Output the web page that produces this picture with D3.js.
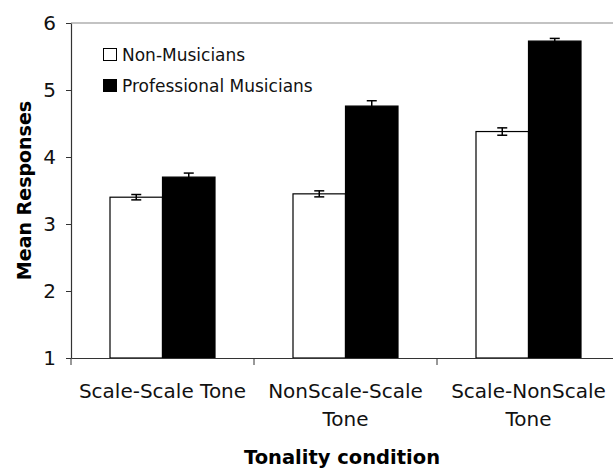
<!DOCTYPE html>
<html>
<head>
<meta charset="utf-8">
<script src="https://cdn.jsdelivr.net/npm/d3@7"></script>
<style>
  html, body { margin: 0; padding: 0; background: #fff; }
  svg { display: block; font-family: "DejaVu Sans", Verdana, sans-serif; }
</style>
</head>
<body>
<svg id="chart" width="613" height="468"></svg>
<script>
// Tonality conditions and their (wrapped) axis labels
const categories = ["Scale-Scale Tone", "NonScale-Scale Tone", "Scale-NonScale Tone"];
const categoryLines = [["Scale-Scale Tone"], ["NonScale-Scale", "Tone"], ["Scale-NonScale", "Tone"]];
const seriesNames = ["Non-Musicians", "Professional Musicians"];
const seriesFill = ["#ffffff", "#000000"];

// Mean responses and standard errors per group
const nonMusicianMeans = [3.40, 3.45, 4.38];
const nonMusicianErr = [0.04, 0.045, 0.055];
const musicianMeans = [3.70, 4.76, 5.73];
const musicianErr = [0.06, 0.08, 0.04];

const yTicks = [1, 2, 3, 4, 5, 6];

const svg = d3.select("#chart");
const plotLeft = 71, plotRight = 620, plotTop = 23, plotBottom = 358;

const x0 = d3.scaleBand().domain(categories).range([plotLeft, plotRight]);
const x1 = d3.scaleBand().domain(seriesNames).range([39, 144]);
const y = d3.scaleLinear().domain([1, 6]).range([plotBottom, plotTop]);

// top frame line
svg.append("line")
  .attr("x1", plotLeft).attr("x2", 613)
  .attr("y1", y(6)).attr("y2", y(6))
  .attr("stroke", "#888").attr("stroke-width", 1.2);

// bars
const series = [
  { name: seriesNames[0], means: nonMusicianMeans, err: nonMusicianErr, fill: seriesFill[0] },
  { name: seriesNames[1], means: musicianMeans, err: musicianErr, fill: seriesFill[1] }
];

const groups = svg.selectAll("g.cat")
  .data(categories)
  .join("g")
  .attr("class", "cat")
  .attr("transform", d => `translate(${x0(d)},0)`);

series.forEach(s => {
  groups.append("rect")
    .attr("x", x1(s.name))
    .attr("width", x1.bandwidth())
    .attr("y", (d, i) => y(s.means[i]))
    .attr("height", (d, i) => y(1) - y(s.means[i]))
    .attr("fill", s.fill)
    .attr("stroke", "#000")
    .attr("stroke-width", 1.2);
});

// error bars
series.forEach(s => {
  const cx = x1(s.name) + x1.bandwidth() / 2;
  const eb = groups.append("g").attr("stroke", "#000").attr("stroke-width", 1.5);
  eb.append("line")
    .attr("x1", cx).attr("x2", cx)
    .attr("y1", (d, i) => y(s.means[i] + s.err[i]))
    .attr("y2", (d, i) => y(s.means[i] - s.err[i]));
  [1, -1].forEach(sign => {
    eb.append("line")
      .attr("x1", cx - 5).attr("x2", cx + 5)
      .attr("y1", (d, i) => y(s.means[i] + sign * s.err[i]))
      .attr("y2", (d, i) => y(s.means[i] + sign * s.err[i]));
  });
});

// y axis
const yAxis = svg.append("g")
  .attr("transform", `translate(${plotLeft},0)`)
  .call(d3.axisLeft(y).tickValues(yTicks).tickFormat(d3.format("d")).tickSize(5).tickSizeOuter(0).tickPadding(10));
yAxis.select(".domain").attr("stroke", "#333").attr("stroke-width", 1.2);
yAxis.selectAll(".tick line").attr("stroke", "#333");
yAxis.selectAll(".tick text")
  .attr("font-size", 20).attr("fill", "#111")
  .style("font-family", "DejaVu Sans, Verdana, sans-serif");

// x axis
const xAxis = svg.append("g")
  .attr("transform", `translate(0,${plotBottom})`)
  .call(d3.axisBottom(x0).tickSize(0).tickSizeOuter(0).tickFormat(""));
xAxis.select(".domain").attr("stroke", "#333").attr("stroke-width", 1.2);
// tick marks at the band boundaries
xAxis.selectAll("line.sep")
  .data(categories)
  .join("line")
  .attr("class", "sep")
  .attr("x1", d => x0(d)).attr("x2", d => x0(d))
  .attr("y1", 0).attr("y2", 7)
  .attr("stroke", "#333");

// category labels
const catLabels = svg.selectAll("text.catlabel")
  .data(categories)
  .join("text")
  .attr("class", "catlabel")
  .attr("x", d => x0(d) + x0.bandwidth() / 2)
  .attr("y", 398)
  .attr("text-anchor", "middle")
  .attr("font-size", 20)
  .attr("fill", "#111");
catLabels.selectAll("tspan")
  .data((d, i) => categoryLines[i])
  .join("tspan")
  .attr("x", function () { return d3.select(this.parentNode).attr("x"); })
  .attr("dy", (d, i) => i === 0 ? 0 : 28)
  .text(d => d);

// axis titles
svg.append("text")
  .attr("x", (plotLeft + 613) / 2)
  .attr("y", 464)
  .attr("text-anchor", "middle")
  .attr("font-size", 19.5).attr("font-weight", "bold")
  .attr("fill", "#000")
  .text("Tonality condition");

svg.append("text")
  .attr("transform", `translate(31,${(plotTop + plotBottom) / 2}) rotate(-90)`)
  .attr("text-anchor", "middle")
  .attr("font-size", 19).attr("font-weight", "bold")
  .attr("fill", "#000")
  .text("Mean Responses");

// legend
const legend = svg.append("g").attr("transform", "translate(103,48)");
const legendItems = legend.selectAll("g")
  .data(seriesNames)
  .join("g")
  .attr("transform", (d, i) => `translate(0,${i * 31})`);
legendItems.append("rect")
  .attr("x", 0.5).attr("y", 0.5)
  .attr("width", 13).attr("height", 12)
  .attr("fill", (d, i) => seriesFill[i])
  .attr("stroke", "#000").attr("stroke-width", 1);
legendItems.append("text")
  .attr("x", 19).attr("y", 12.5)
  .attr("font-size", 17).attr("fill", "#111")
  .text(d => d);
</script>
</body>
</html>
